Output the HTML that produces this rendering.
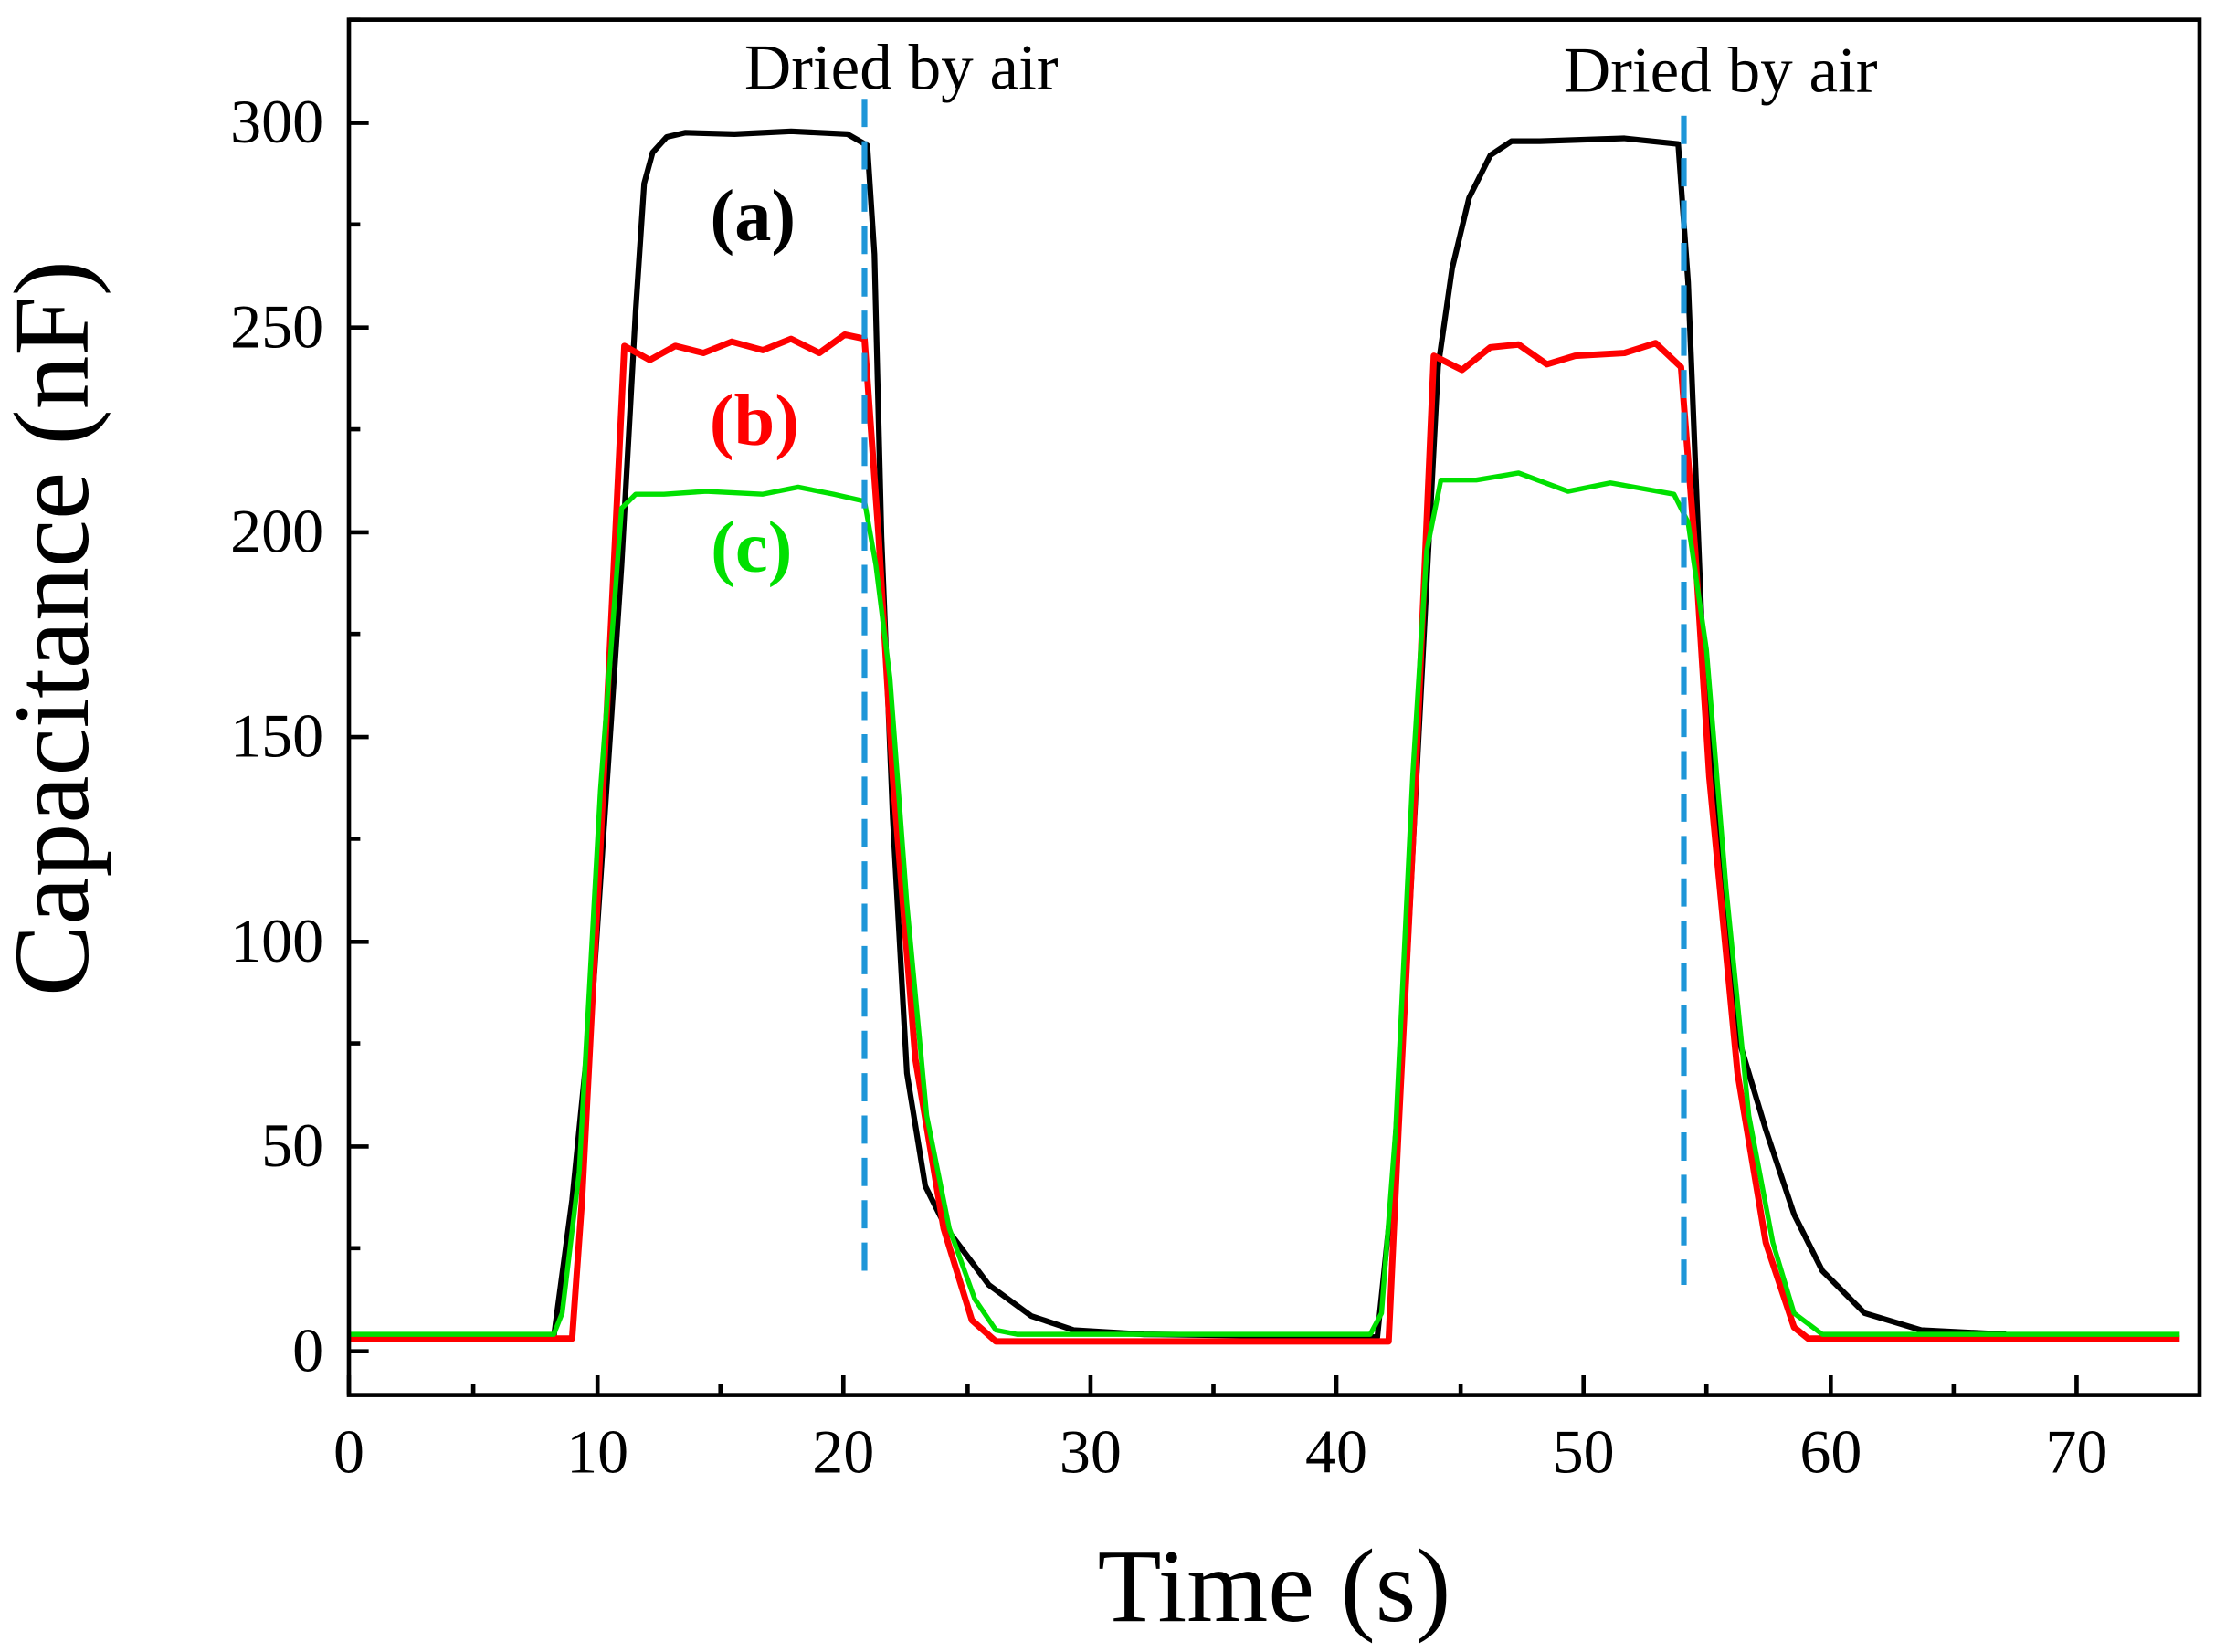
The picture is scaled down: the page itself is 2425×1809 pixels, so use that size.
<!DOCTYPE html>
<html><head><meta charset="utf-8"><style>html,body{margin:0;padding:0;background:#fff}svg{display:block}</style></head>
<body>
<svg width="2425" height="1809" viewBox="0 0 1568 1170" preserveAspectRatio="none" xmlns="http://www.w3.org/2000/svg" font-family="Liberation Serif, serif">
<rect width="1568" height="1170" fill="#fff"/>
<g fill="none" stroke-linejoin="round" stroke-width="4">
<polyline stroke="#000" points="247,947 392,947 405,850 420,700 440,400 450,220 456,130 462,108 472,97 485,94 520,95 560,93 600,95 614,103 619,180 624,380 632,580 642,760 655,840 670,870 700,910 730,932 760,942 810,945 975,947 985,850 995,700 1008,450 1018,260 1028,190 1040,140 1055,110 1070,100 1090,100 1150,98 1188,102 1195,200 1205,450 1218,620 1232,740 1250,800 1270,860 1290,900 1320,930 1360,942 1420,945"/>
<polyline stroke="#f00" stroke-width="4.5" points="247,948 405,948 412,850 425,600 442,245 460,255 478,245 498,250 518,242 540,248 560,240 580,250 598,237 612,240 622,380 632,550 648,750 668,870 688,935 705,950 983,950 990,800 1000,600 1015,252 1035,262 1055,246 1075,244 1095,258 1115,252 1150,250 1172,243 1190,260 1200,390 1210,550 1230,760 1250,880 1270,940 1280,948 1543,948"/>
<polyline stroke="#00e000" stroke-width="3.5" points="247,945 392,945 398,930 410,830 425,560 440,360 450,350 470,350 500,348 540,350 565,345 590,350 612,355 620,400 630,480 642,640 656,790 672,870 690,920 705,942 720,945 970,945 978,930 988,800 1000,550 1010,390 1020,340 1045,340 1075,335 1110,348 1140,342 1185,350 1195,370 1208,460 1222,630 1238,790 1255,880 1270,930 1290,945 1543,945"/>
</g>
<g stroke="#1e96d8" stroke-width="4" stroke-dasharray="20,10">
<line x1="612" y1="70" x2="612" y2="900"/>
<line x1="1192" y1="82" x2="1192" y2="910"/>
</g>
<rect x="247" y="14" width="1310" height="974" fill="none" stroke="#000" stroke-width="3"/>
<g stroke="#000" stroke-width="3">
<path d="M247,988v-14 M335,988v-8 M423,988v-14 M510,988v-8 M597,988v-14 M685,988v-8 M772,988v-14 M859,988v-8 M946,988v-14 M1034,988v-8 M1121,988v-14 M1208,988v-8 M1296,988v-14 M1383,988v-8 M1470,988v-14"/>
<path d="M247,957h14 M247,884h8 M247,812h14 M247,739h8 M247,667h14 M247,594h8 M247,522h14 M247,449h8 M247,377h14 M247,304h8 M247,232h14 M247,159h8 M247,87h14 M247,14h8"/>
</g>
<g font-size="44" text-anchor="end">
<text x="229" y="971">0</text><text x="229" y="826">50</text><text x="229" y="681">100</text><text x="229" y="536">150</text><text x="229" y="391">200</text><text x="229" y="246">250</text><text x="229" y="101">300</text>
</g>
<g font-size="44" text-anchor="middle">
<text x="247" y="1043">0</text><text x="423" y="1043">10</text><text x="597" y="1043">20</text><text x="772" y="1043">30</text><text x="946" y="1043">40</text><text x="1121" y="1043">50</text><text x="1296" y="1043">60</text><text x="1470" y="1043">70</text>
</g>
<text x="902" y="1148" font-size="74" text-anchor="middle">Time (s)</text>
<text transform="translate(62,445) rotate(-90)" font-size="76" text-anchor="middle">Capacitance (nF)</text>
<g font-size="46" text-anchor="middle">
<text x="638" y="63">Dried by air</text>
<text x="1218" y="65">Dried by air</text>
</g>
<g font-size="52" font-weight="bold" text-anchor="middle">
<text x="533" y="170" fill="#000">(a)</text>
<text x="534" y="315" fill="#f00">(b)</text>
<text x="532" y="405" fill="#00e000">(c)</text>
</g>
</svg>
</body></html>
